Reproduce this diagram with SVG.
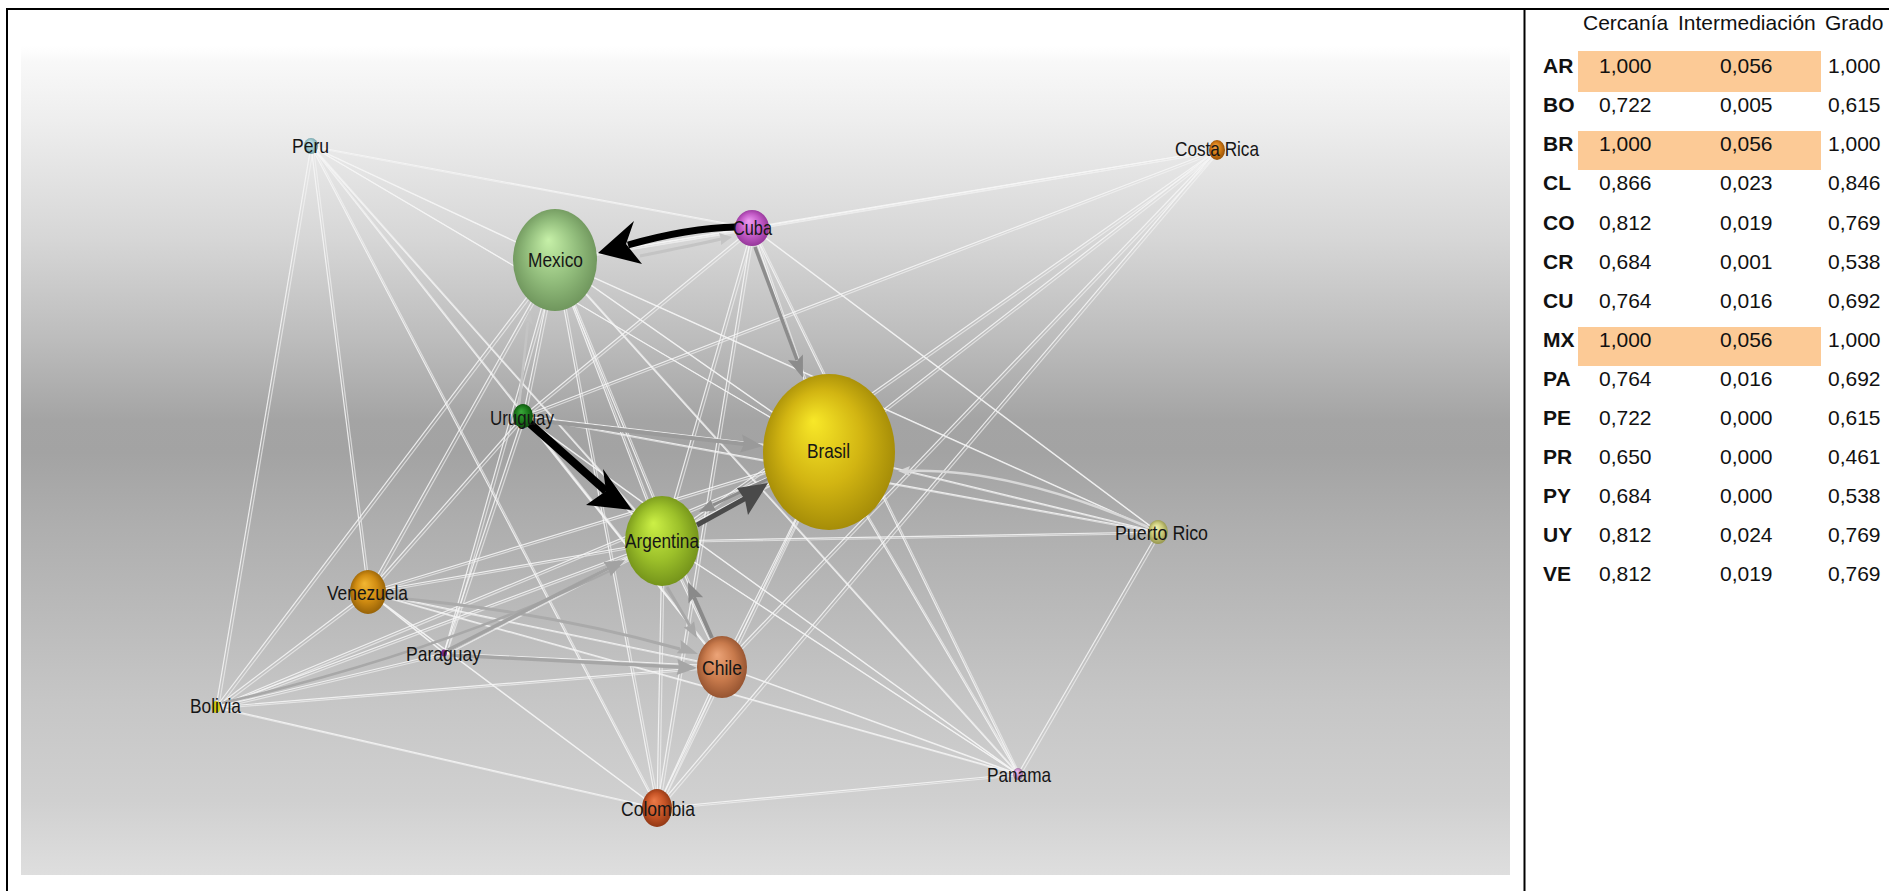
<svg xmlns="http://www.w3.org/2000/svg" xmlns:xlink="http://www.w3.org/1999/xlink" width="1889" height="891" viewBox="0 0 1889 891">
<style>
.wl{stroke:#f6f6f6;stroke-width:1.2;stroke-opacity:0.88;fill:none}
.lbl{font-family:"Liberation Sans",Arial,sans-serif;font-size:21px;fill:#161616}
.tb{font-family:"Liberation Sans",Arial,sans-serif;font-size:21px;fill:#111}
.tbb{font-family:"Liberation Sans",Arial,sans-serif;font-size:21px;font-weight:bold;fill:#111}
.hl{fill:#fcca96}
.frame{stroke:#000;stroke-width:2;fill:none}
</style>
<defs>
<linearGradient id="bg" x1="0" y1="0" x2="0" y2="1">
<stop offset="0" stop-color="#ffffff"/>
<stop offset="0.02" stop-color="#f8f8f8"/>
<stop offset="0.09" stop-color="#eeeeee"/>
<stop offset="0.235" stop-color="#d6d6d6"/>
<stop offset="0.355" stop-color="#bcbcbc"/>
<stop offset="0.452" stop-color="#a4a4a4"/>
<stop offset="0.49" stop-color="#a3a3a3"/>
<stop offset="0.585" stop-color="#afafaf"/>
<stop offset="0.79" stop-color="#c6c6c6"/>
<stop offset="0.91" stop-color="#d0d0d0"/>
<stop offset="1" stop-color="#dedede"/>
</linearGradient>
<radialGradient id="g-mx" cx="0.5" cy="0.5" r="0.55" fx="0.42" fy="0.3"><stop offset="0" stop-color="#c6f0a8"/><stop offset="0.55" stop-color="#92bd7c"/><stop offset="1" stop-color="#6a9058"/></radialGradient>
<radialGradient id="g-br" cx="0.5" cy="0.5" r="0.55" fx="0.38" fy="0.3"><stop offset="0" stop-color="#f8e828"/><stop offset="0.55" stop-color="#d2b512"/><stop offset="1" stop-color="#9e8606"/></radialGradient>
<radialGradient id="g-ar" cx="0.5" cy="0.5" r="0.55" fx="0.38" fy="0.3"><stop offset="0" stop-color="#ccf046"/><stop offset="0.55" stop-color="#9cc02a"/><stop offset="1" stop-color="#6e8c18"/></radialGradient>
<radialGradient id="g-cu" cx="0.5" cy="0.5" r="0.55" fx="0.4" fy="0.3"><stop offset="0" stop-color="#ee9cf2"/><stop offset="0.55" stop-color="#c45cc8"/><stop offset="1" stop-color="#8e3092"/></radialGradient>
<radialGradient id="g-uy" cx="0.5" cy="0.5" r="0.55" fx="0.4" fy="0.3"><stop offset="0" stop-color="#3aa83a"/><stop offset="0.55" stop-color="#1c7a1c"/><stop offset="1" stop-color="#0c4a0c"/></radialGradient>
<radialGradient id="g-ve" cx="0.5" cy="0.5" r="0.55" fx="0.4" fy="0.3"><stop offset="0" stop-color="#f2b632"/><stop offset="0.55" stop-color="#d08c12"/><stop offset="1" stop-color="#8e5c06"/></radialGradient>
<radialGradient id="g-cl" cx="0.5" cy="0.5" r="0.55" fx="0.4" fy="0.3"><stop offset="0" stop-color="#eca478"/><stop offset="0.55" stop-color="#c87a4c"/><stop offset="1" stop-color="#8e4e2c"/></radialGradient>
<radialGradient id="g-co" cx="0.5" cy="0.5" r="0.55" fx="0.4" fy="0.3"><stop offset="0" stop-color="#ec7a48"/><stop offset="0.55" stop-color="#c65426"/><stop offset="1" stop-color="#8a3412"/></radialGradient>
<radialGradient id="g-pe" cx="0.5" cy="0.5" r="0.55" fx="0.4" fy="0.3"><stop offset="0" stop-color="#e0f4f6"/><stop offset="0.55" stop-color="#9cc6cc"/><stop offset="1" stop-color="#6a9aa0"/></radialGradient>
<radialGradient id="g-cr" cx="0.5" cy="0.5" r="0.55" fx="0.4" fy="0.3"><stop offset="0" stop-color="#f4a444"/><stop offset="0.55" stop-color="#d07812"/><stop offset="1" stop-color="#8e4c06"/></radialGradient>
<radialGradient id="g-pr" cx="0.5" cy="0.5" r="0.55" fx="0.4" fy="0.3"><stop offset="0" stop-color="#f4f4b0"/><stop offset="0.55" stop-color="#c8c878"/><stop offset="1" stop-color="#8e8e48"/></radialGradient>
<radialGradient id="g-pa" cx="0.5" cy="0.5" r="0.55" fx="0.4" fy="0.3"><stop offset="0" stop-color="#eec0ee"/><stop offset="0.55" stop-color="#c890c8"/><stop offset="1" stop-color="#906090"/></radialGradient>
</defs>

<rect x="0" y="0" width="1889" height="891" fill="#ffffff"/>
<rect x="21" y="46" width="1489" height="829" fill="url(#bg)"/>

<g id="connectors">
<g id="wl">
<line class="wl" x1="662" y1="541" x2="829" y2="452"/>
<line class="wl" x1="662" y1="541" x2="555" y2="260"/>
<line class="wl" x1="829" y1="452" x2="555" y2="260"/>
<line class="wl" x1="662" y1="541" x2="311" y2="146"/>
<line class="wl" x1="662" y1="541" x2="752" y2="228"/>
<line class="wl" x1="662" y1="541" x2="1217" y2="150"/>
<line class="wl" x1="662" y1="541" x2="523" y2="416"/>
<line class="wl" x1="662" y1="541" x2="1158" y2="532"/>
<line class="wl" x1="662" y1="541" x2="368" y2="592"/>
<line class="wl" x1="662" y1="541" x2="444" y2="653"/>
<line class="wl" x1="662" y1="541" x2="216" y2="707"/>
<line class="wl" x1="662" y1="541" x2="722" y2="666"/>
<line class="wl" x1="662" y1="541" x2="657" y2="808"/>
<line class="wl" x1="662" y1="541" x2="1018" y2="774"/>
<line class="wl" x1="829" y1="452" x2="311" y2="146"/>
<line class="wl" x1="829" y1="452" x2="752" y2="228"/>
<line class="wl" x1="829" y1="452" x2="1217" y2="150"/>
<line class="wl" x1="829" y1="452" x2="523" y2="416"/>
<line class="wl" x1="829" y1="452" x2="1158" y2="532"/>
<line class="wl" x1="829" y1="452" x2="368" y2="592"/>
<line class="wl" x1="829" y1="452" x2="444" y2="653"/>
<line class="wl" x1="829" y1="452" x2="216" y2="707"/>
<line class="wl" x1="829" y1="452" x2="722" y2="666"/>
<line class="wl" x1="829" y1="452" x2="657" y2="808"/>
<line class="wl" x1="829" y1="452" x2="1018" y2="774"/>
<line class="wl" x1="555" y1="260" x2="311" y2="146"/>
<line class="wl" x1="555" y1="260" x2="752" y2="228"/>
<line class="wl" x1="555" y1="260" x2="1217" y2="150"/>
<line class="wl" x1="555" y1="260" x2="523" y2="416"/>
<line class="wl" x1="555" y1="260" x2="1158" y2="532"/>
<line class="wl" x1="555" y1="260" x2="368" y2="592"/>
<line class="wl" x1="555" y1="260" x2="444" y2="653"/>
<line class="wl" x1="555" y1="260" x2="216" y2="707"/>
<line class="wl" x1="555" y1="260" x2="722" y2="666"/>
<line class="wl" x1="555" y1="260" x2="657" y2="808"/>
<line class="wl" x1="555" y1="260" x2="1018" y2="774"/>
<line class="wl" x1="311" y1="146" x2="216" y2="707"/>
<line class="wl" x1="311" y1="146" x2="752" y2="228"/>
<line class="wl" x1="311" y1="146" x2="368" y2="592"/>
<line class="wl" x1="311" y1="146" x2="722" y2="666"/>
<line class="wl" x1="311" y1="146" x2="657" y2="808"/>
<line class="wl" x1="216" y1="707" x2="368" y2="592"/>
<line class="wl" x1="216" y1="707" x2="444" y2="653"/>
<line class="wl" x1="216" y1="707" x2="722" y2="666"/>
<line class="wl" x1="216" y1="707" x2="657" y2="808"/>
<line class="wl" x1="1217" y1="150" x2="752" y2="228"/>
<line class="wl" x1="1217" y1="150" x2="722" y2="666"/>
<line class="wl" x1="1217" y1="150" x2="657" y2="808"/>
<line class="wl" x1="1217" y1="150" x2="523" y2="416"/>
<line class="wl" x1="1158" y1="532" x2="1018" y2="774"/>
<line class="wl" x1="1158" y1="532" x2="523" y2="416"/>
<line class="wl" x1="1158" y1="532" x2="752" y2="228"/>
<line class="wl" x1="1018" y1="774" x2="657" y2="808"/>
<line class="wl" x1="1018" y1="774" x2="722" y2="666"/>
<line class="wl" x1="1018" y1="774" x2="752" y2="228"/>
<line class="wl" x1="1018" y1="774" x2="368" y2="592"/>
<line class="wl" x1="1018" y1="774" x2="523" y2="416"/>
<line class="wl" x1="444" y1="653" x2="722" y2="666"/>
<line class="wl" x1="444" y1="653" x2="368" y2="592"/>
<line class="wl" x1="444" y1="653" x2="523" y2="416"/>
<line class="wl" x1="722" y1="666" x2="657" y2="808"/>
<line class="wl" x1="722" y1="666" x2="523" y2="416"/>
<line class="wl" x1="722" y1="666" x2="368" y2="592"/>
<line class="wl" x1="657" y1="808" x2="752" y2="228"/>
<line class="wl" x1="657" y1="808" x2="368" y2="592"/>
<line class="wl" x1="752" y1="228" x2="523" y2="416"/>
<line class="wl" x1="523" y1="416" x2="368" y2="592"/>
</g>
<use xlink:href="#wl" href="#wl" transform="translate(2.5,1.5)" opacity="0.7"/>

<path d="M1148,527 Q1010,468 908,471" fill="none" stroke="#d8d8d8" stroke-width="2.5"/>
<polygon points="898,471 910,466 908,471 910,476" fill="#d8d8d8"/>
<path d="M519,406 L528,322" fill="none" stroke="#c4c4c4" stroke-width="2.5"/>
<polygon points="530,310 523,324 528,321 533,325" fill="#c4c4c4"/>
<path d="M640,256 Q690,246 721,239" fill="none" stroke="#c4c4c4" stroke-width="3"/>
<polygon points="732,237 719,233 721,239 721,245" fill="#c4c4c4"/>
<path d="M222,703 Q450,650 620,566" fill="none" stroke="#a8a8a8" stroke-width="2.5"/>

<path d="M385,597 Q540,610 680,649" fill="none" stroke="#aaaaaa" stroke-width="3"/>
<polygon points="698,654 676.8,653.3 681,648 680.6,639.9" fill="#aaaaaa"/>
<path d="M450,655 L679,667" fill="none" stroke="#a6a6a6" stroke-width="3.5"/>
<polygon points="697,668 676.6,674.9 679,667 677.4,658.9" fill="#a6a6a6"/>
<path d="M448,650 L609,568" fill="none" stroke="#a2a2a2" stroke-width="3.5"/>
<polygon points="625,560 610.8,576.2 608.1,568.6 603.6,562" fill="#a2a2a2"/>
<path d="M533,420 L744,444" fill="none" stroke="#9a9a9a" stroke-width="4"/>
<polygon points="763,446 740.1,452.4 744.1,443.9 742.1,434.6" fill="#9a9a9a"/>
<path d="M755,247 L797,360" fill="none" stroke="#8c8c8c" stroke-width="3.5"/>
<polygon points="803,378 787.9,360.1 796.8,361.1 802.9,354.5" fill="#8c8c8c"/>
<path d="M667,587 L690,626" fill="none" stroke="#a8a8a8" stroke-width="3"/>
<polygon points="697,638 683.7,627.2 689.9,625.9 694.1,621.2" fill="#a8a8a8"/>
<path d="M712,638 L694,597" fill="none" stroke="#8a8a8a" stroke-width="4"/>
<polygon points="688,582 688.5,603.5 694,597 703.2,597.2" fill="#8a8a8a"/>
<path d="M770,478 L713,505" fill="none" stroke="#8c8c8c" stroke-width="3"/>
<polygon points="699,512 710.8,499.7 713,505.5 716,510.5" fill="#8c8c8c"/>

<path d="M697,525 L746,498" fill="none" stroke="#4a4a4a" stroke-width="5"/>
<polygon points="768,483 737,488 745,500 748,515" fill="#4a4a4a"/>
<path d="M527,421 L606,491" fill="none" stroke="#000" stroke-width="8"/>
<polygon points="632,510 586,505 606,491 603,469" fill="#000"/>
<path d="M736,227 Q688,228 628,245" fill="none" stroke="#000" stroke-width="7"/>
<polygon points="598,253 634,221 626,244 642,264" fill="#000"/>
</g>

<g id="n-peru"><ellipse cx="311" cy="146" rx="7" ry="8" fill="url(#g-pe)"/><text class="lbl" x="292" y="153" textLength="37" lengthAdjust="spacingAndGlyphs">Peru</text></g>
<g id="n-mexico"><ellipse cx="555" cy="260" rx="42" ry="51" fill="url(#g-mx)"/><text class="lbl" x="528" y="267" textLength="55" lengthAdjust="spacingAndGlyphs">Mexico</text></g>
<g id="n-cuba"><ellipse cx="752" cy="228" rx="17" ry="18" fill="url(#g-cu)"/><text class="lbl" x="733" y="235" textLength="39" lengthAdjust="spacingAndGlyphs">Cuba</text></g>
<g id="n-costarica"><ellipse cx="1217" cy="150" rx="8" ry="10" fill="url(#g-cr)"/><text class="lbl" x="1175" y="156" textLength="84" lengthAdjust="spacingAndGlyphs">Costa Rica</text></g>
<g id="n-uruguay"><ellipse cx="523" cy="416" rx="10" ry="12" fill="url(#g-uy)"/><text class="lbl" x="490" y="425" textLength="64" lengthAdjust="spacingAndGlyphs">Uruguay</text></g>
<g id="n-brasil"><ellipse cx="829" cy="452" rx="66" ry="78" fill="url(#g-br)"/><text class="lbl" x="807" y="458" textLength="43" lengthAdjust="spacingAndGlyphs">Brasil</text></g>
<g id="n-argentina"><ellipse cx="662" cy="541" rx="37" ry="45" fill="url(#g-ar)"/><text class="lbl" x="625" y="548" textLength="74" lengthAdjust="spacingAndGlyphs">Argentina</text></g>
<g id="n-puertorico"><ellipse cx="1158" cy="532" rx="10" ry="12" fill="url(#g-pr)"/><text class="lbl" x="1115" y="540" textLength="93" lengthAdjust="spacingAndGlyphs">Puerto Rico</text></g>
<g id="n-venezuela"><ellipse cx="368" cy="592" rx="18" ry="22" fill="url(#g-ve)"/><text class="lbl" x="327" y="600" textLength="81" lengthAdjust="spacingAndGlyphs">Venezuela</text></g>
<g id="n-paraguay"><ellipse cx="444" cy="653" rx="3" ry="3.5" fill="#7a2888"/><text class="lbl" x="406" y="661" textLength="75" lengthAdjust="spacingAndGlyphs">Paraguay</text></g>
<g id="n-bolivia"><ellipse cx="216" cy="707" rx="4.5" ry="6" fill="#d8cc10"/><text class="lbl" x="190" y="713" textLength="51" lengthAdjust="spacingAndGlyphs">Bolivia</text></g>
<g id="n-chile"><ellipse cx="722" cy="667" rx="25" ry="31" fill="url(#g-cl)"/><text class="lbl" x="702" y="675" textLength="40" lengthAdjust="spacingAndGlyphs">Chile</text></g>
<g id="n-colombia"><ellipse cx="657" cy="808" rx="15" ry="19" fill="url(#g-co)"/><text class="lbl" x="621" y="816" textLength="74" lengthAdjust="spacingAndGlyphs">Colombia</text></g>
<g id="n-panama"><ellipse cx="1018" cy="774" rx="5" ry="6" fill="url(#g-pa)"/><text class="lbl" x="987" y="782" textLength="64" lengthAdjust="spacingAndGlyphs">Panama</text></g>

<g id="table">
<rect class="hl" x="1578" y="51" width="243" height="41"/>
<rect class="hl" x="1578" y="131" width="243" height="39"/>
<rect class="hl" x="1578" y="327" width="243" height="39"/>
<text class="tb" x="1583" y="30">Cercanía</text>
<text class="tb" x="1678" y="30">Intermediación</text>
<text class="tb" x="1825" y="30">Grado</text>
<g>
<text class="tbb" x="1543" y="73">AR</text><text class="tb" x="1599" y="73">1,000</text><text class="tb" x="1720" y="73">0,056</text><text class="tb" x="1828" y="73">1,000</text>
<text class="tbb" x="1543" y="112">BO</text><text class="tb" x="1599" y="112">0,722</text><text class="tb" x="1720" y="112">0,005</text><text class="tb" x="1828" y="112">0,615</text>
<text class="tbb" x="1543" y="151">BR</text><text class="tb" x="1599" y="151">1,000</text><text class="tb" x="1720" y="151">0,056</text><text class="tb" x="1828" y="151">1,000</text>
<text class="tbb" x="1543" y="190">CL</text><text class="tb" x="1599" y="190">0,866</text><text class="tb" x="1720" y="190">0,023</text><text class="tb" x="1828" y="190">0,846</text>
<text class="tbb" x="1543" y="229.5">CO</text><text class="tb" x="1599" y="229.5">0,812</text><text class="tb" x="1720" y="229.5">0,019</text><text class="tb" x="1828" y="229.5">0,769</text>
<text class="tbb" x="1543" y="268.5">CR</text><text class="tb" x="1599" y="268.5">0,684</text><text class="tb" x="1720" y="268.5">0,001</text><text class="tb" x="1828" y="268.5">0,538</text>
<text class="tbb" x="1543" y="307.6">CU</text><text class="tb" x="1599" y="307.6">0,764</text><text class="tb" x="1720" y="307.6">0,016</text><text class="tb" x="1828" y="307.6">0,692</text>
<text class="tbb" x="1543" y="346.7">MX</text><text class="tb" x="1599" y="346.7">1,000</text><text class="tb" x="1720" y="346.7">0,056</text><text class="tb" x="1828" y="346.7">1,000</text>
<text class="tbb" x="1543" y="385.8">PA</text><text class="tb" x="1599" y="385.8">0,764</text><text class="tb" x="1720" y="385.8">0,016</text><text class="tb" x="1828" y="385.8">0,692</text>
<text class="tbb" x="1543" y="424.9">PE</text><text class="tb" x="1599" y="424.9">0,722</text><text class="tb" x="1720" y="424.9">0,000</text><text class="tb" x="1828" y="424.9">0,615</text>
<text class="tbb" x="1543" y="464">PR</text><text class="tb" x="1599" y="464">0,650</text><text class="tb" x="1720" y="464">0,000</text><text class="tb" x="1828" y="464">0,461</text>
<text class="tbb" x="1543" y="503.1">PY</text><text class="tb" x="1599" y="503.1">0,684</text><text class="tb" x="1720" y="503.1">0,000</text><text class="tb" x="1828" y="503.1">0,538</text>
<text class="tbb" x="1543" y="542.2">UY</text><text class="tb" x="1599" y="542.2">0,812</text><text class="tb" x="1720" y="542.2">0,024</text><text class="tb" x="1828" y="542.2">0,769</text>
<text class="tbb" x="1543" y="581.3">VE</text><text class="tb" x="1599" y="581.3">0,812</text><text class="tb" x="1720" y="581.3">0,019</text><text class="tb" x="1828" y="581.3">0,769</text>
</g>
</g>

<g id="frame">
<line class="frame" x1="6" y1="9" x2="1889" y2="9"/>
<line class="frame" x1="7" y1="8" x2="7" y2="891"/>
<line class="frame" x1="1524.5" y1="8" x2="1524.5" y2="891"/>
</g>
</svg>
